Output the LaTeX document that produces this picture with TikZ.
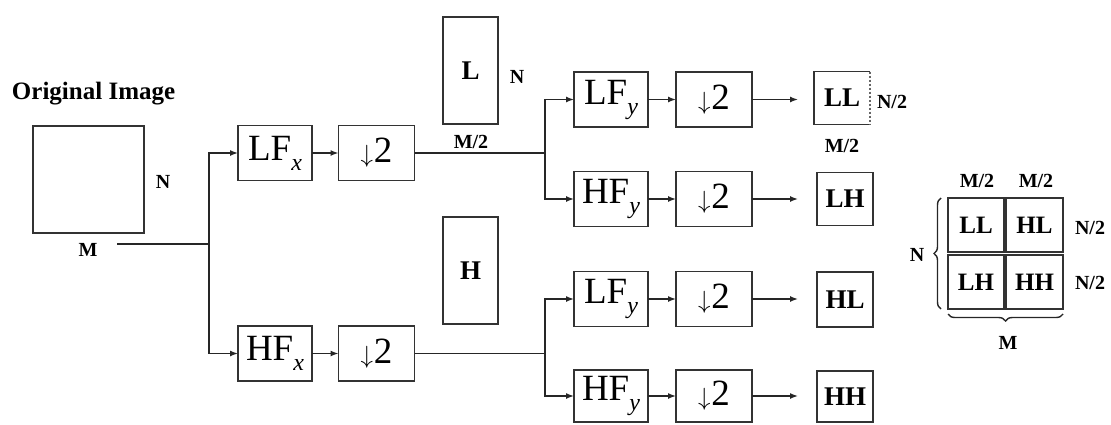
\documentclass[tikz,border=0pt]{standalone}
\usepackage{fontspec}
\setmainfont{Liberation Serif}
\usetikzlibrary{arrows.meta,decorations.pathreplacing}
\newcommand\mysub[1]{\raisebox{-10pt}{\fontsize{24}{24}\selectfont\itshape #1}}
\newcommand\dtwo{$\downarrow$\kern1pt 2}
\begin{document}
\begin{tikzpicture}[x=1pt,y=-1pt,
  every node/.style={inner sep=0pt, outer sep=0pt},
  blk/.style={draw=black!80, line width=1.4pt, minimum width=74pt, minimum height=55pt, font=\fontsize{37}{37}\selectfont},
  dn/.style={blk, minimum width=76pt},
  cell/.style={draw=black!80, line width=1.4pt, minimum width=56pt, minimum height=53pt, font=\bfseries\fontsize{27}{27}\selectfont},
  gcell/.style={draw=black!80, line width=1.4pt, minimum width=56pt, minimum height=54pt, font=\bfseries\fontsize{25}{25}\selectfont},
  tall/.style={draw=black!80, line width=1.4pt, minimum width=55pt, minimum height=107pt, font=\bfseries\fontsize{27}{27}\selectfont},
  lab/.style={font=\bfseries\fontsize{20}{20}\selectfont},
  wire/.style={line width=1.4pt, draw=black!85},
  arr/.style={wire, -{Latex[length=8pt,width=6pt]}},
  brc/.style={line width=1.4pt, draw=black!85, decorate, decoration={brace,amplitude=7pt}},
]
\useasboundingbox (0,0) rectangle (1111,424);

% original image
\node[anchor=base west, font=\bfseries\fontsize{25}{25}\selectfont] (title) at (12,99) {Original Image};
\node[draw=black!80, line width=1.4pt, minimum width=111pt, minimum height=107pt] (orig) at (88.5,179.5) {};
\node[lab] (oN) at (163,182) {N};
\node[lab] (oM) at (88,250) {M};
\coordinate (j1) at (209,244);
\coordinate (j0) at (117,244);

% first stage
\node[blk] (lfx) at (275,153) {LF\mysub{x}};
\node[dn] (d1) at (376.5,153) {\dtwo};
\node[blk] (hfx) at (275,353.5) {HF\mysub{x}};
\node[dn] (d2) at (376.5,353.5) {\dtwo};
\coordinate (j2) at (545,153);
\coordinate (j3) at (545,353.5);
\node[lab] (m2a) at (471,142) {M/2};

\node[tall] (Lb) at (470.5,70.5) {L};
\node[lab] (LbN) at (517,77) {N};
\node[tall] (Hb) at (470.5,270.5) {H};

% second stage
\node[blk] (lfy1) at (611,99.5) {LF\mysub{y}};
\node[dn] (d3) at (714,99.5) {\dtwo};
\node[blk] (hfy1) at (611,199) {HF\mysub{y}};
\node[dn] (d4) at (714,199) {\dtwo};
\node[blk] (lfy2) at (611,299) {LF\mysub{y}};
\node[dn] (d5) at (714,299) {\dtwo};
\node[blk, minimum height=52pt] (hfy2) at (611,396) {HF\mysub{y}};
\node[dn, minimum height=52pt] (d6) at (714,396) {\dtwo};

\node[cell, draw=none] (LL) at (842,98) {LL};
\draw[line width=1.4pt, black!80] (LL.north east) -- (LL.north west) -- (LL.south west) -- (LL.south east);
\draw[line width=1.2pt, black!60, dash pattern=on 2pt off 2pt] (LL.north east) -- (LL.south east);
\node[lab] (LLn) at (892,102) {N/2};
\node[lab] (LLm) at (842,146) {M/2};
\node[cell] (LH) at (845,199) {LH};
\node[cell, minimum height=55pt] (HL) at (845,299.5) {HL};
\node[cell, minimum height=51pt] (HH) at (845,396.5) {HH};

% connectors
\draw[wire] (j0) -- (j1);
\draw[arr] (j1) |- (lfx.west);
\draw[arr] (j1) |- (hfx.west);
\draw[arr] (lfx.east) -- (d1.west);
\draw[arr] (hfx.east) -- (d2.west);
\draw[wire] (d1.east) -- (j2);
\draw[wire] (d2.east) -- (j3);
\draw[arr] (j2) |- (lfy1.west);
\draw[arr] (j2) |- (hfy1.west);
\draw[arr] (j3) |- (lfy2.west);
\draw[arr] (j3) |- (hfy2.west);
\draw[arr] (lfy1.east) -- (d3.west);
\draw[arr] (hfy1.east) -- (d4.west);
\draw[arr] (lfy2.east) -- (d5.west);
\draw[arr] (hfy2.east) -- (d6.west);
\draw[arr, shorten >=16pt] (d3.east) -- (d3.east -| LL.west);
\draw[arr, shorten >=19pt] (d4.east) -- (d4.east -| LH.west);
\draw[arr, shorten >=19pt] (d5.east) -- (d5.east -| HL.west);
\draw[arr, shorten >=19pt] (d6.east) -- (d6.east -| HH.west);

% result grid
\node[gcell] (g11) at (976,225) {LL};
\node[gcell, minimum width=57pt] (g12) at (1034.5,225) {HL};
\node[gcell] (g21) at (976,282) {LH};
\node[gcell, minimum width=57pt] (g22) at (1034.5,282) {HH};
\node[lab] (gm1) at (977,181) {M/2};
\node[lab] (gm2) at (1036,181) {M/2};
\node[lab] (gn1) at (1090,228) {N/2};
\node[lab] (gn2) at (1090,283) {N/2};
\draw[brc] ([xshift=-7pt]g21.south west) -- ([xshift=-7pt]g11.north west);
\node[lab] (gN) at (917,255) {N};
\draw[brc] ([yshift=-5pt]g22.south east) -- ([yshift=-5pt]g21.south west);
\node[lab] (gM) at (1008,343) {M};
\end{tikzpicture}
\end{document}
